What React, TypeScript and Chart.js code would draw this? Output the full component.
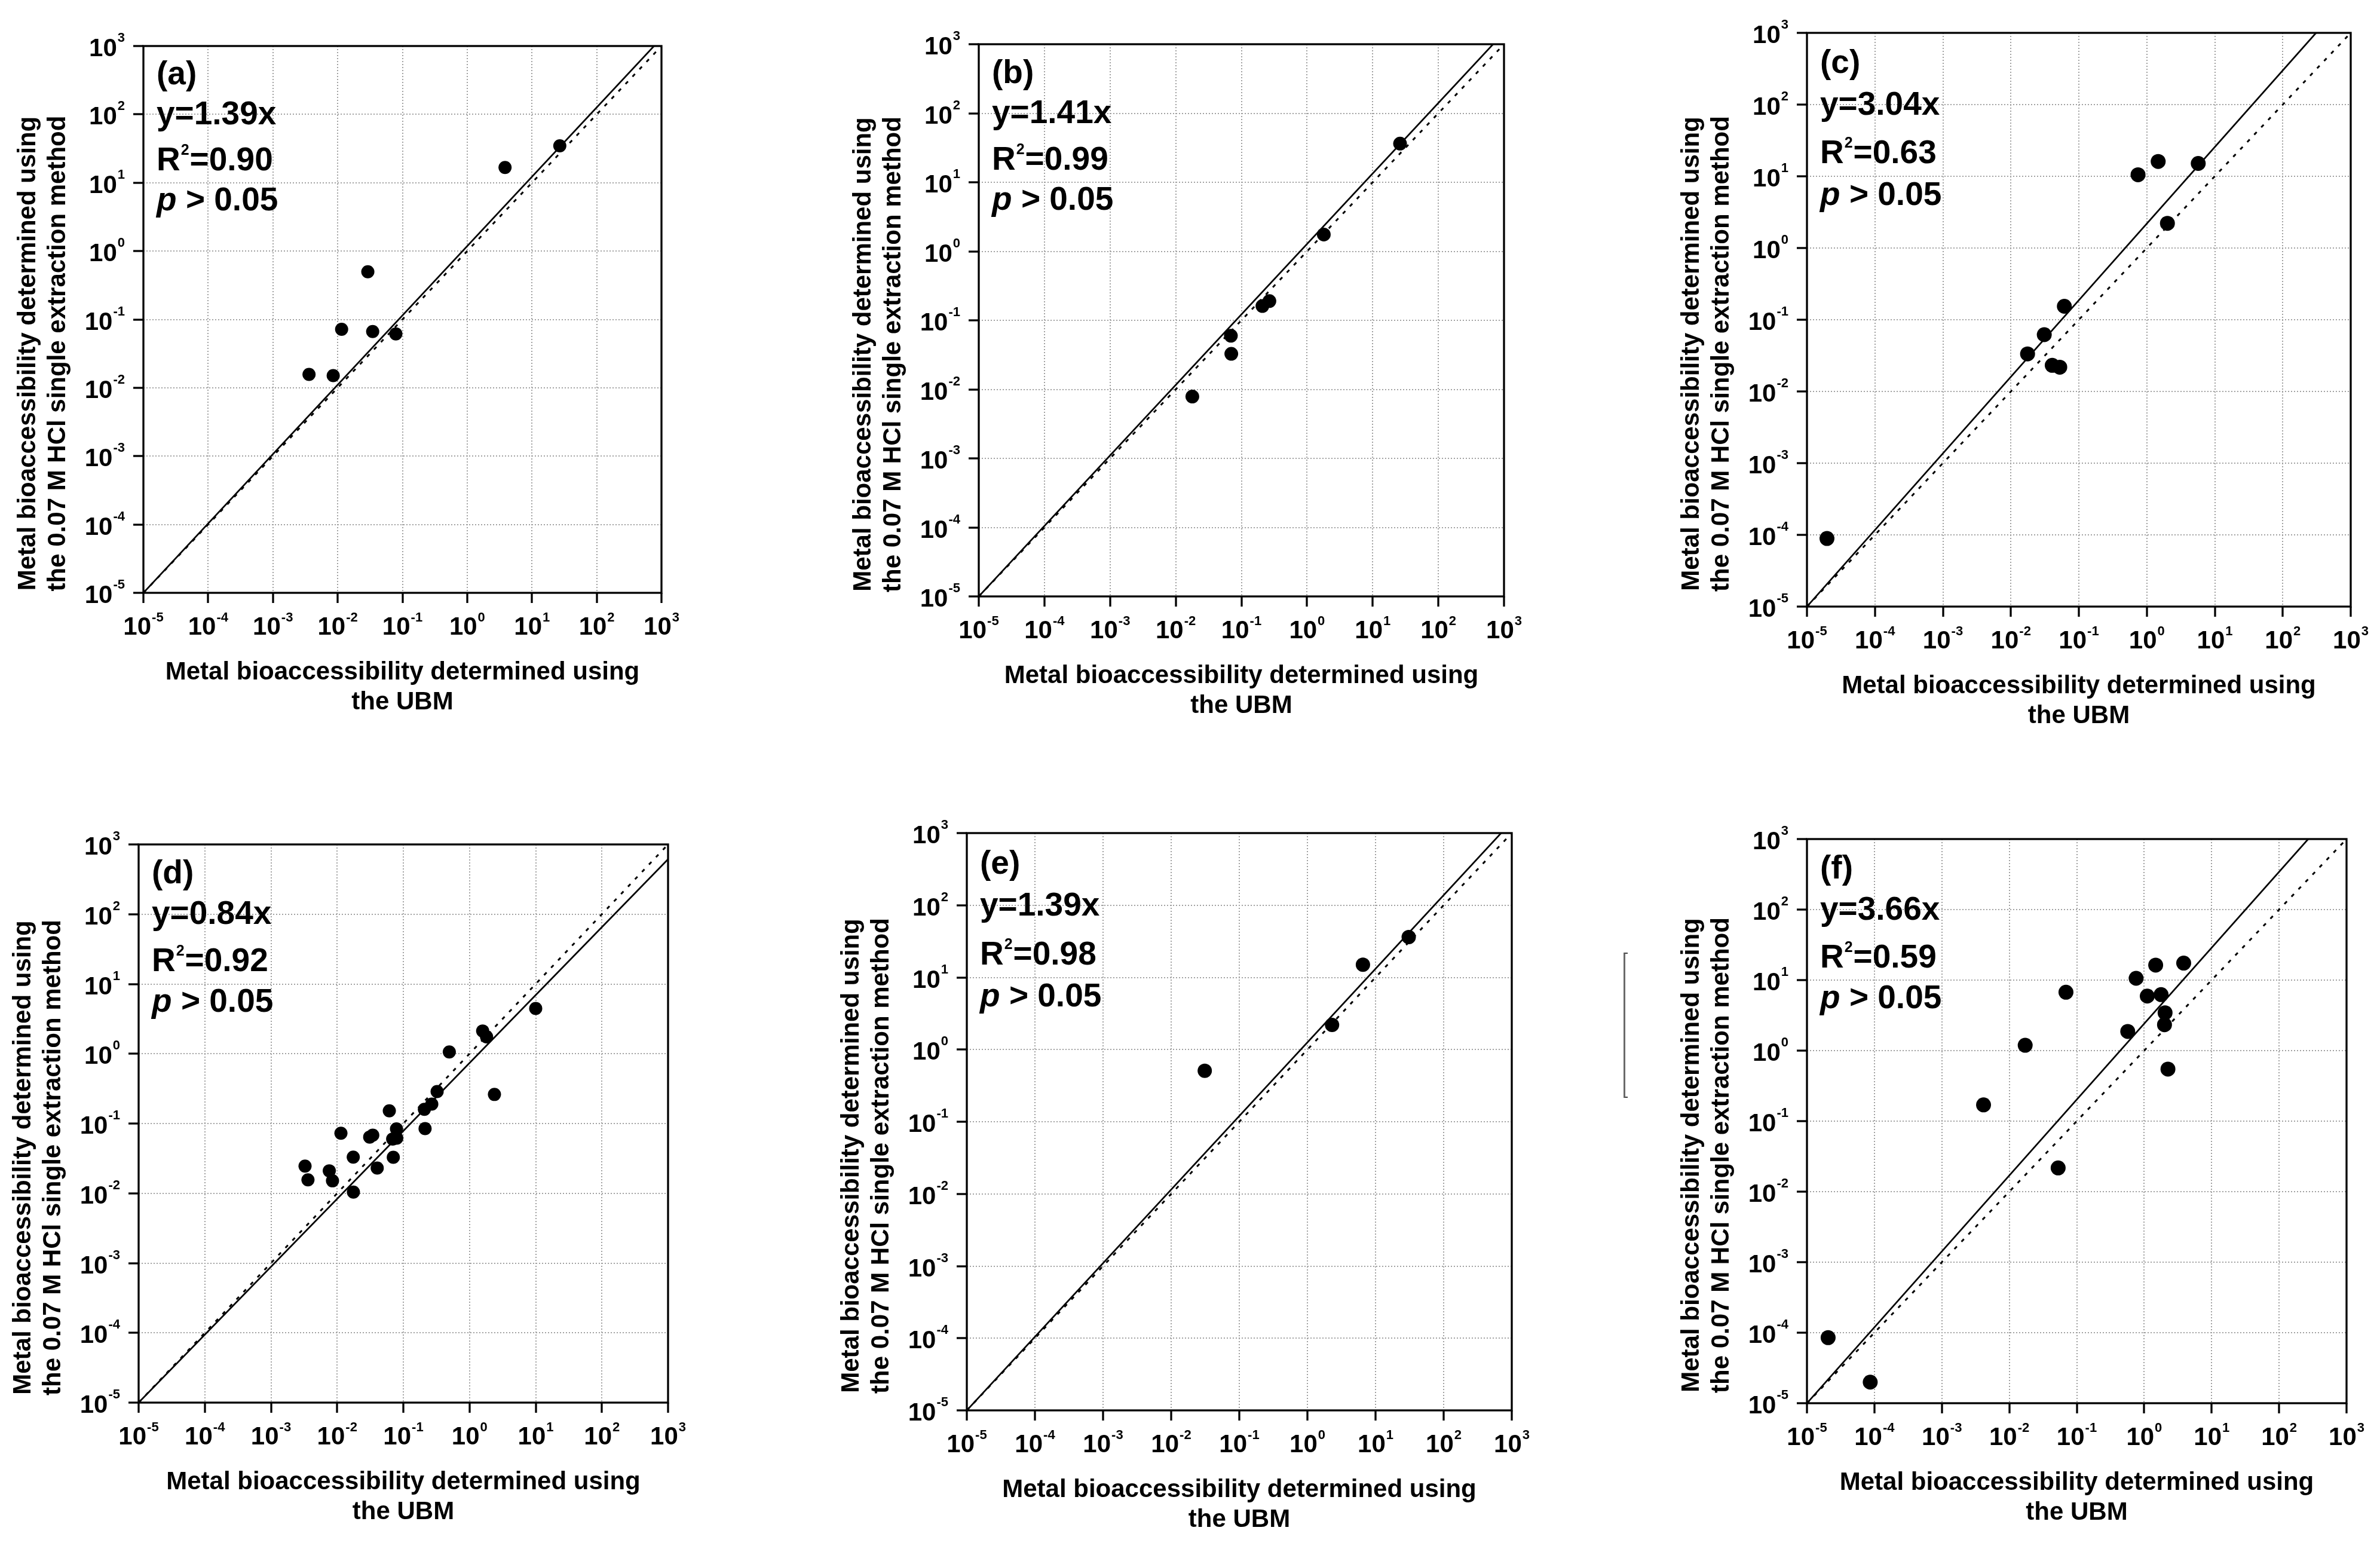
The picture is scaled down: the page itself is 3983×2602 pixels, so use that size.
import React, { useEffect, useRef } from 'react';
import { Chart, registerables } from 'chart.js';

Chart.register(...registerables);

// ---------- data ----------
const decadeTicks = [1e-5, 1e-4, 1e-3, 1e-2, 1e-1, 1, 10, 100, 1000];
const axisMin = 1e-5;
const axisMax = 1e3;

const panelLabels = ['(a)', '(b)', '(c)', '(d)', '(e)', '(f)'];
const slopeTexts = ['1.39', '1.41', '3.04', '0.84', '1.39', '3.66'];
const r2Texts = ['0.90', '0.99', '0.63', '0.92', '0.98', '0.59'];
const pTexts = ['0.05', '0.05', '0.05', '0.05', '0.05', '0.05'];

const xTitleLines = ['Metal bioaccessibility determined using', 'the UBM'];
const yTitleLines = ['Metal bioaccessibility determined using', 'the 0.07 M HCl single extraction method'];

// UBM (x) and 0.07 M HCl (y) values per panel
const aUBM = [0.00361, 0.00853, 0.0115, 0.0292, 0.0347, 0.0791, 3.84, 26.9];
const aHCl = [0.0157, 0.0151, 0.0716, 0.498, 0.0664, 0.0615, 16.7, 34.6];

const bUBM = [0.0179, 0.0692, 0.0702, 0.209, 0.267, 1.8, 26.1];
const bHCl = [0.00787, 0.0597, 0.0327, 0.161, 0.19, 1.75, 36.3];

const cUBM = [1.97e-5, 0.0176, 0.031, 0.0406, 0.0524, 0.0612, 0.743, 1.47, 2.01, 5.71];
const cHCl = [8.9e-5, 0.0334, 0.0619, 0.0231, 0.0218, 0.154, 10.5, 16.1, 2.21, 15.1];

const dUBM = [0.00327, 0.00362, 0.0076, 0.0085, 0.0114, 0.0175, 0.0176, 0.031, 0.0345, 0.0403, 0.0614, 0.069, 0.0705, 0.0788, 0.0795, 0.208, 0.213, 0.269, 0.324, 0.495, 1.58, 1.81, 2.38, 10.0];
const dHCl = [0.0245, 0.0156, 0.021, 0.0151, 0.0725, 0.033, 0.0104, 0.064, 0.068, 0.023, 0.152, 0.06, 0.0328, 0.0838, 0.0618, 0.16, 0.0845, 0.19, 0.287, 1.06, 2.12, 1.75, 0.261, 4.45];

const eUBM = [0.0311, 2.3, 6.53, 30.7];
const eHCl = [0.509, 2.2, 15.0, 36.2];

const fUBM = [2.06e-5, 8.67e-5, 0.00415, 0.0172, 0.053, 0.0692, 0.57, 0.759, 1.11, 1.48, 1.78, 2.04, 2.0, 2.25, 3.85];
const fHCl = [8.5e-5, 1.99e-5, 0.17, 1.19, 0.0217, 6.72, 1.87, 10.6, 5.93, 16.3, 6.22, 3.44, 2.33, 0.547, 17.4];

const ubmSeries = [aUBM, bUBM, cUBM, dUBM, eUBM, fUBM];
const hclSeries = [aHCl, bHCl, cHCl, dHCl, eHCl, fHCl];

// fitted line (solid): from (fitStart, fitStart) to (fitEndX, fitEndY)
const fitStart = 1e-5;
const fitEndX = [767, 681, 309, 1000, 697, 270];
const fitEndY = [1000, 1000, 1000, 614, 1000, 1000];
// 1:1 line (dotted)
const oneToOne = [1e-5, 1e3];

// ---------- layout / style ----------
const FRAMES = [
  { L: 240, T: 77, R: 1107, B: 992 },
  { L: 1638, T: 74, R: 2517, B: 998 },
  { L: 3024, T: 55, R: 3934, B: 1015 },
  { L: 232, T: 1413, R: 1118, B: 2347 },
  { L: 1618, T: 1394, R: 2530, B: 2360 },
  { L: 3024, T: 1404, R: 3927, B: 2348 },
];
const POINT_R = [11, 11.5, 12.5, 11, 12, 12.5];
const PAD_L = 250;
const PAD_T = 60;
const PAD_R = 45;
const PAD_B = 232;
const FONT = '"Liberation Sans", Arial, Helvetica, sans-serif';
const ANNOT_FS = 55;

function drawPow(ctx: CanvasRenderingContext2D, x: number, baseline: number, exp: string, align: 'center' | 'right', supRise: number) {
  ctx.font = `700 42px ${FONT}`;
  const w1 = ctx.measureText('10').width;
  ctx.font = `700 22px ${FONT}`;
  const w2 = ctx.measureText(exp).width;
  const total = w1 + 1 + w2;
  const start = align === 'center' ? x - total / 2 : x - total;
  ctx.textAlign = 'left';
  ctx.textBaseline = 'alphabetic';
  ctx.font = `700 42px ${FONT}`;
  ctx.fillText('10', start, baseline);
  ctx.font = `700 22px ${FONT}`;
  ctx.fillText(exp, start + w1 + 1, baseline - supRise);
}

function makeOverlay(idx: number) {
  return {
    id: 'overlay' + idx,
    afterDraw(chart: any) {
      const { ctx, chartArea: ca, scales } = chart;
      const xs = scales.x;
      const ys = scales.y;
      ctx.save();
      // frame
      ctx.strokeStyle = '#000';
      ctx.lineWidth = 3.3;
      ctx.setLineDash([]);
      ctx.strokeRect(ca.left, ca.top, ca.right - ca.left, ca.bottom - ca.top);
      ctx.fillStyle = '#000';
      // x tick labels
      for (const t of xs.ticks) {
        const px = xs.getPixelForValue(t.value);
        const e = String(Math.round(Math.log10(t.value)));
        drawPow(ctx, px, ca.bottom + 70, e, 'center', 22);
      }
      // y tick labels
      for (const t of ys.ticks) {
        const py = ys.getPixelForValue(t.value);
        const e = String(Math.round(Math.log10(t.value)));
        drawPow(ctx, ca.left - 31, py + 17, e, 'right', 24);
      }
      // annotation block
      const H = ca.bottom - ca.top;
      const fs = ANNOT_FS;
      const x0 = ca.left + 22;
      const bl = [0.0699, 0.1429, 0.2273, 0.3003].map((f) => ca.top + f * H);
      const main = `700 ${fs}px ${FONT}`;
      ctx.textAlign = 'left';
      ctx.textBaseline = 'alphabetic';
      ctx.font = main;
      ctx.fillText(panelLabels[idx], x0, bl[0]);
      ctx.fillText(`y=${slopeTexts[idx]}x`, x0, bl[1]);
      ctx.fillText('R', x0, bl[2]);
      const wR = ctx.measureText('R').width;
      ctx.font = `700 ${Math.round(fs * 0.46)}px ${FONT}`;
      ctx.fillText('2', x0 + wR + 1, bl[2] - fs * 0.47);
      const w2 = ctx.measureText('2').width;
      ctx.font = main;
      ctx.fillText(`=${r2Texts[idx]}`, x0 + wR + w2 + 2, bl[2]);
      ctx.font = `italic 700 ${fs}px ${FONT}`;
      ctx.fillText('p', x0, bl[3]);
      const wp = ctx.measureText('p').width;
      ctx.font = main;
      ctx.fillText(` > ${pTexts[idx]}`, x0 + wp, bl[3]);
      // axis titles
      ctx.font = `700 42px ${FONT}`;
      ctx.textAlign = 'center';
      ctx.textBaseline = 'middle';
      const cx = (ca.left + ca.right) / 2;
      ctx.fillText(xTitleLines[0], cx, ca.bottom + 133);
      ctx.fillText(xTitleLines[1], cx, ca.bottom + 183);
      const cy = (ca.top + ca.bottom) / 2 + 57;
      ctx.save();
      ctx.translate(ca.left - 193, cy);
      ctx.rotate(-Math.PI / 2);
      ctx.fillText(yTitleLines[0], 0, 0);
      ctx.restore();
      ctx.save();
      ctx.translate(ca.left - 143, cy);
      ctx.rotate(-Math.PI / 2);
      ctx.fillText(yTitleLines[1], 0, 0);
      ctx.restore();
      ctx.restore();
    },
  };
}

function axisOptions(kind: 'x' | 'y') {
  return {
    type: 'logarithmic' as const,
    position: kind === 'x' ? ('bottom' as const) : ('left' as const),
    min: axisMin,
    max: axisMax,
    afterBuildTicks: (s: any) => {
      s.ticks = decadeTicks.map((v) => ({ value: v }));
    },
    afterFit: (s: any) => {
      if (kind === 'x') s.height = PAD_B;
      else s.width = PAD_L;
    },
    ticks: { display: false },
    grid: {
      display: true,
      color: '#a2a2a2',
      lineWidth: 2,
      drawTicks: true,
      tickLength: 17,
      tickWidth: 3.3,
      tickColor: '#000',
      tickBorderDash: [],
    },
    border: { display: false, dash: [2, 3] },
  };
}

function Panel({ idx }: { idx: number }) {
  const ref = useRef<HTMLCanvasElement>(null);
  const f = FRAMES[idx];
  const w = f.R - f.L + PAD_L + PAD_R;
  const h = f.B - f.T + PAD_T + PAD_B;
  useEffect(() => {
    const pts = ubmSeries[idx].map((x, i) => ({ x, y: hclSeries[idx][i] }));
    const chart = new Chart(ref.current as HTMLCanvasElement, {
      type: 'scatter',
      data: {
        datasets: [
          {
            label: 'samples',
            data: pts,
            pointRadius: POINT_R[idx],
            pointHoverRadius: POINT_R[idx],
            pointBackgroundColor: '#000',
            pointBorderColor: '#000',
            pointBorderWidth: 0,
            showLine: false,
          },
          {
            label: 'fit',
            data: [
              { x: fitStart, y: fitStart },
              { x: fitEndX[idx], y: fitEndY[idx] },
            ],
            showLine: true,
            borderColor: '#000',
            borderWidth: 2.7,
            pointRadius: 0,
            fill: false,
          },
          {
            label: '1:1',
            data: [
              { x: oneToOne[0], y: oneToOne[0] },
              { x: oneToOne[1], y: oneToOne[1] },
            ],
            showLine: true,
            borderColor: '#000',
            borderWidth: 3,
            borderDash: [6, 11],
            pointRadius: 0,
            fill: false,
          },
        ],
      },
      options: {
        responsive: false,
        maintainAspectRatio: false,
        animation: false,
        devicePixelRatio: 1,
        layout: { padding: { left: 0, top: PAD_T, right: PAD_R, bottom: 0 } },
        plugins: { legend: { display: false }, tooltip: { enabled: false }, title: { display: false } },
        events: [],
        scales: { x: axisOptions('x') as any, y: axisOptions('y') as any },
      },
      plugins: [makeOverlay(idx)],
    });
    return () => chart.destroy();
  }, [idx]);
  return (
    <canvas
      ref={ref}
      width={w}
      height={h}
      style={{ position: 'absolute', left: f.L - PAD_L, top: f.T - PAD_T, width: w, height: h }}
    />
  );
}

export default function App() {
  useEffect(() => {
    document.body.style.margin = '0';
    document.body.style.background = '#fff';
  }, []);
  return (
    <div style={{ position: 'absolute', left: 0, top: 0, width: 3983, height: 2602, overflow: 'hidden', background: '#fff' }}>
      {FRAMES.map((_, i) => (
        <Panel key={i} idx={i} />
      ))}
      <div
        style={{
          position: 'absolute',
          left: 2717,
          top: 1594,
          width: 4,
          height: 239,
          borderLeft: '3px solid #6a6a6a',
          borderTop: '2px solid #444',
          borderBottom: '2px solid #444',
        }}
      />
    </div>
  );
}
